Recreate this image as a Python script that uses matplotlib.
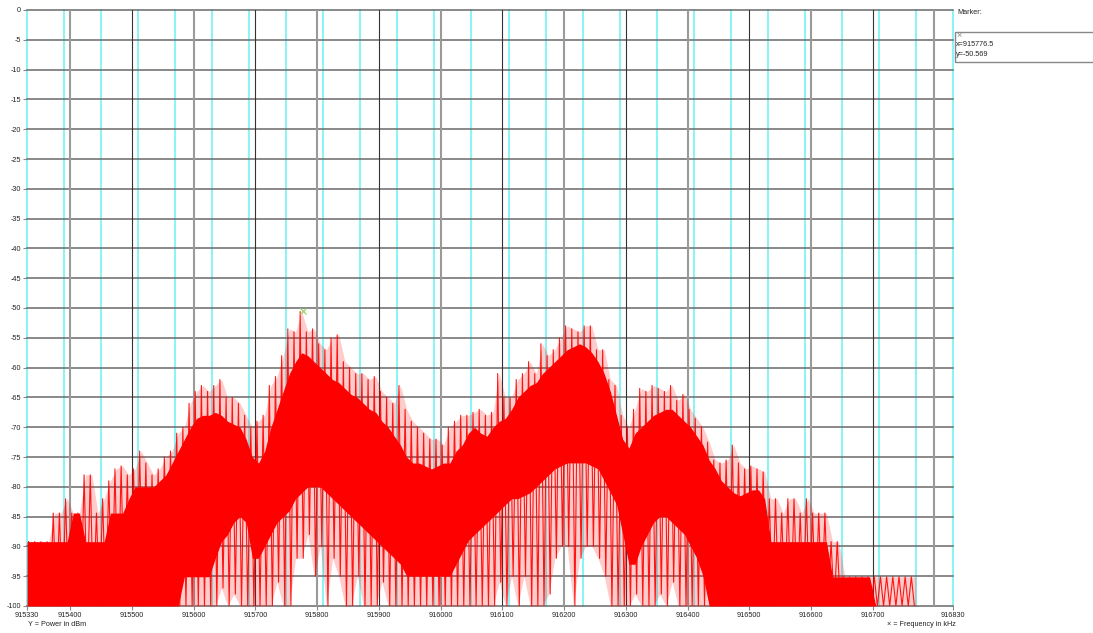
import numpy as np
import matplotlib
matplotlib.use("Agg")
import matplotlib.pyplot as plt
from matplotlib.patches import Rectangle

plt.rcParams["font.family"] = ["Liberation Sans", "DejaVu Sans"]
plt.rcParams["axes.unicode_minus"] = False

# spectrum, 10 kHz bins starting at 915330 kHz
F_START = 915330
F_STEP = 10

# highest spike in each bin (dBm)
peak = [
    -89.2, -89.2, -89.2, -89.2, -84.4, -84.4, -82, -84.4, -84.4, -78,
    -78, -84.4, -82, -79, -77, -76.5, -78, -77, -74, -76,
    -78, -77, -75, -74, -71, -70, -66, -64, -63, -64,
    -63, -62, -65, -65, -66, -68, -70, -69, -68, -63,
    -61.5, -58, -53.5, -54, -50.6, -54, -53.5, -56, -57, -55,
    -54.5, -59, -60, -61, -61, -62, -61.5, -64, -65, -66,
    -63, -67, -69, -70, -71, -72, -72, -73, -70, -69,
    -68, -68, -67.5, -67, -68, -67.5, -61, -65, -65, -62,
    -61, -59, -61, -56, -58, -57, -55, -53, -53.5, -54,
    -53, -53, -57, -57, -62, -63, -68, -70, -67, -63.5,
    -64, -63, -63.5, -64, -63, -65.5, -64.5, -67, -68.5, -70,
    -72.5, -75.5, -76, -75.5, -73, -76, -77, -76.5, -77, -77.5,
    -82, -82, -84.4, -82, -82, -84.4, -82, -84.4, -84.4, -84.4,
    -89.2, -89.2, -95.1, -95.1, -95.1, -95.1, -95.1, -95.1, -95.1, -95.1,
    -95.1, -95.1, -95.1, -95.1,
]

# top of the solid red band
top = [
    -89.2, -89.2, -89.2, -89.2, -89.2, -89.2, -89.2, -84.4, -84.4, -89.2,
    -89.2, -89.2, -89.2, -84.4, -84.4, -84.4, -82, -80, -80, -80,
    -80, -79, -78, -76, -74, -72, -70, -68.5, -68, -68,
    -67.5, -68, -69, -69.5, -70, -72, -75, -76, -74, -70,
    -67, -64, -61, -59, -57.5, -58, -59, -60, -61, -62,
    -62.5, -63.5, -64.5, -65, -66, -67, -67.5, -69, -70, -71.5,
    -73, -75, -76, -76, -76.5, -77, -76.5, -76, -76, -74,
    -73, -71, -70, -71, -71.5, -70, -69, -68.5, -67, -65,
    -64, -63, -62.5, -61, -60, -59, -58, -57, -56.5, -56,
    -56.5, -57.5, -59, -61, -64, -68, -72, -73.5, -71, -70,
    -69, -68, -67.5, -67, -67, -68, -69, -70, -71.5, -73,
    -75.5, -77, -79, -80, -81, -81.5, -81, -80.5, -80.5, -82,
    -89.2, -89.2, -89.2, -89.2, -89.2, -89.2, -89.2, -89.2, -89.2, -89.2,
    -95.1, -95.1, -95.1, -95.1, -95.1, -95.1, -95.1, -100, -100, -100,
    -100, -100, -100, -100,
]

# bottom of the solid red band
bot = [
    -100, -100, -100, -100, -100, -100, -100, -100, -100, -100,
    -100, -100, -100, -100, -100, -100, -100, -100, -100, -100,
    -100, -100, -100, -100, -100, -95.1, -95.1, -95.1, -95.1, -95.1,
    -92, -89.2, -88, -86, -85, -86, -92, -92, -90, -88,
    -86, -85, -84, -82, -81, -80, -80, -80, -81, -82,
    -83, -84, -85, -86, -87, -88, -89, -90, -91, -92,
    -93, -95, -95, -95, -95, -95, -95, -95, -95, -93,
    -91, -89, -88, -87, -86, -85, -84, -83, -82, -82,
    -81.5, -81, -80, -79, -78, -77, -76.5, -76, -76, -76,
    -76, -76.5, -77, -79, -81, -83, -88, -93, -93, -90,
    -88, -86, -85, -85, -86, -87, -88, -90, -92, -95,
    -100, -100, -100, -100, -100, -100, -100, -100, -100, -100,
    -100, -100, -100, -100, -100, -100, -100, -100, -100, -100,
    -100, -100, -100, -100, -100, -100, -100, -100, -100, -100,
    -100, -100, -100, -100,
]

# lowest dip in each bin
floor = [
    -100, -100, -100, -100, -100, -100, -100, -100, -100, -100,
    -100, -100, -100, -100, -100, -100, -100, -100, -100, -100,
    -100, -100, -100, -100, -100, -100, -100, -100, -100, -100,
    -100, -97, -100, -98, -100, -100, -100, -100, -100, -100,
    -96, -100, -100, -92, -92, -88, -95, -90, -100, -92,
    -95, -100, -100, -95, -100, -100, -100, -96, -100, -100,
    -100, -100, -100, -100, -100, -100, -100, -100, -100, -100,
    -100, -100, -100, -100, -100, -100, -96, -100, -95, -100,
    -95, -100, -100, -100, -98, -92, -90, -90, -100, -92,
    -90, -90, -92, -95, -100, -100, -100, -100, -98, -100,
    -100, -100, -98, -100, -96, -100, -100, -100, -100, -100,
    -100, -100, -100, -100, -100, -100, -100, -100, -100, -100,
    -100, -100, -100, -100, -100, -100, -100, -100, -100, -100,
    -100, -100, -100, -100, -100, -100, -100, -100, -100, -100,
    -100, -100, -100, -100,
]

marker_x = 915776.5
marker_y = -50.569

x_ticks = [915330, 915400, 915500, 915600, 915700, 915800, 915900, 916000,
           916100, 916200, 916300, 916400, 916500, 916600, 916700, 916830]
y_ticks = list(range(0, -105, -5))

W, H = 1093, 633
FS = 5.2
RED = "#ff0000"
fig = plt.figure(figsize=(W / 100, H / 100), dpi=100)
ax = fig.add_axes([27 / W, 1 - 606 / H, 926 / W, 596 / H])
ax.set_xlim(915330, 916830)
ax.set_ylim(-100, 0)
for s in ax.spines.values():
    s.set_visible(False)

# grid: cyan every 60 kHz, dark/gray every 100 kHz, every 5 dB
for f in range(915330, 916831, 60):
    ax.axvline(f, color="#7ff4f4", lw=1.3, zorder=1, clip_on=False)
for k, f in enumerate(range(915400, 916801, 100)):
    if k % 2 == 0:
        ax.axvline(f, color="#9a9a9a", lw=1.5, zorder=1.5)
    else:
        ax.axvline(f, color="#333333", lw=0.8, zorder=1.5)
for v in y_ticks:
    ax.axhline(v, color="#6a6a6a", lw=1.1, zorder=1.2, clip_on=False)

# the trace: solid core, faint haze of spikes, zig-zag between peak and dip
n = len(peak)
starts = F_START + F_STEP * np.arange(n)


def _pad(vals):
    return np.concatenate([[vals[0]], vals, [vals[-1]]])


cx = np.concatenate([[F_START], starts + F_STEP / 2, [starts[-1] + F_STEP]])
ax.fill_between(cx, _pad(top), _pad(peak), color=RED, alpha=0.2, lw=0,
                zorder=2.5)
ax.fill_between(cx, _pad(floor), _pad(bot), color=RED, alpha=0.2, lw=0,
                zorder=2.5)
ax.fill_between(cx, _pad(bot), _pad(top), color=RED, lw=0, zorder=3)

zx = np.empty(2 * n)
zy = np.empty(2 * n)
zx[0::2] = starts + 2.5
zx[1::2] = starts + 7.5
zy[0::2] = peak
zy[1::2] = floor
ax.plot(zx, zy, color=RED, lw=0.8, alpha=0.9, zorder=3)

ax.plot([marker_x], [marker_y], marker="x", ms=4, mew=0.9,
        color="#9ad86a", zorder=5)

ax.set_xticks(x_ticks)
ax.set_xticklabels([str(t) for t in x_ticks])
ax.set_yticks(y_ticks)
ax.set_yticklabels([str(v) for v in y_ticks])
ax.tick_params(axis="both", labelsize=FS, labelcolor="#222222",
               color="#888888", length=3, width=0.8, pad=1.2)

# side panel and axis captions
fig.text(957 / W, 1 - 13 / H, "Marker:", fontsize=FS, color="#222222",
         va="center", ha="left")
fig.patches.append(Rectangle((955 / W, 1 - 62 / H), 140 / W, 30 / H,
                             transform=fig.transFigure, fill=False,
                             edgecolor="#888888", lw=1))
fig.text(956 / W, 1 - 36 / H, "\u00d7", fontsize=6.5, color="#888888",
         va="center", ha="left")
fig.text(956 / W, 1 - 44 / H, "x=%.1f" % marker_x, fontsize=FS,
         color="#222222", va="center", ha="left")
fig.text(956 / W, 1 - 54 / H, "y=%.3f" % marker_y, fontsize=FS,
         color="#222222", va="center", ha="left")
fig.text(28 / W, 1 - 624 / H, "Y = Power in dBm", fontsize=FS,
         color="#222222", va="center", ha="left")
fig.text(887 / W, 1 - 624 / H, "\u00d7 = Frequency in kHz", fontsize=FS,
         color="#222222", va="center", ha="left")

fig.savefig("out.png", dpi=100)
